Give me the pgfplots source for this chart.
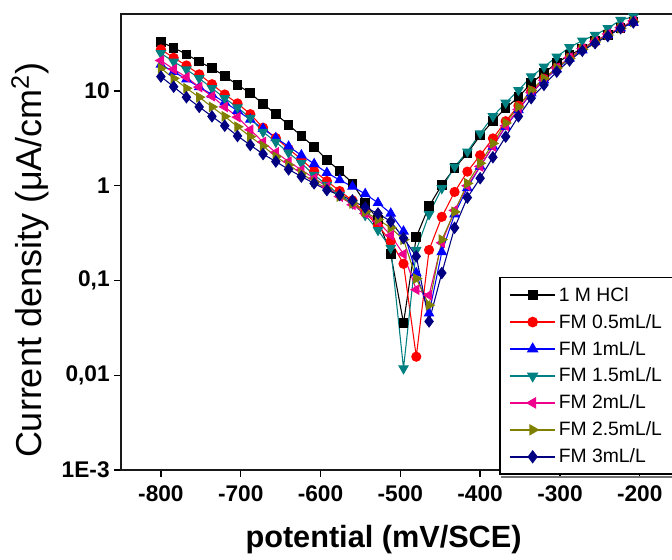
\documentclass[border=0pt]{standalone}
\usepackage{pgfplots}
\usepackage{pgfplotstable}
\pgfplotsset{compat=1.18}
\usepackage{fontspec}
\setmainfont{Liberation Sans}
\definecolor{cteal}{RGB}{0,128,128}
\definecolor{colive}{RGB}{128,128,0}
\definecolor{cnavy}{RGB}{0,0,128}
\pgfplotstableread{
x hcl fma fmb fmc fmd fme fmf
-800 33 27.5 19 25 21 17.4 14.2
-784 28.6 22.4 16 20.4 17 13.6 11.1
-768 24.4 18.6 13.3 16.9 14 10.7 8.6
-752 20.4 15 11 13.6 11 8.6 6.8
-736 17.4 11.8 9.2 10.7 8.8 6.8 5.4
-720 14.4 9.2 7.6 8.4 6.8 5.4 4.3
-704 11.6 7.4 6.2 6.7 5.3 4.2 3.35
-688 9.5 5.7 5.0 5.2 3.9 3.3 2.69
-672 7.3 4.1 4.0 3.7 2.9 2.63 2.16
-656 5.7 3.2 3.2 2.9 2.25 2.03 1.8
-640 4.4 2.45 2.6 2.23 1.8 1.66 1.49
-624 3.35 1.9 2.1 1.73 1.47 1.35 1.25
-608 2.58 1.43 1.7 1.30 1.2 1.1 1.06
-592 1.87 1.12 1.37 1.02 0.98 0.94 0.90
-576 1.44 0.88 1.15 0.80 0.77 0.77 0.80
-560 1.06 0.70 0.98 0.65 0.63 0.65 0.70
-544 0.66 0.52 0.82 0.49 0.51 0.53 0.59
-528 0.44 0.38 0.66 0.34 0.42 0.44 0.51
-512 0.19 0.26 0.51 0.22 0.30 0.36 0.42
-496 0.0356 0.15 0.33 0.0118 0.19 0.27 0.28
-480 0.288 0.0157 0.12 0.21 0.08 0.105 0.18
-464 0.61 0.21 0.045 0.5 0.07 0.055 0.037
-448 1.02 0.47 0.2 0.94 0.25 0.27 0.12
-432 1.54 0.86 0.5 1.59 0.55 0.53 0.36
-416 2.2 1.41 0.95 2.29 1.0 1.06 0.75
-400 3.4 2.1 1.6 3.57 1.6 1.73 1.2
-384 4.8 3.16 2.6 5.4 2.6 2.8 2.0
-368 6.6 4.8 4.2 7.5 4.3 4.6 3.3
-352 8.6 7 6.3 10.2 6.4 6.8 5.4
-336 12.1 10 9.5 14.2 9.6 10.2 8.4
-320 15.5 13.5 13 18 13 13.6 11.6
-304 19.8 17.5 17 23 17.5 17.5 16
-288 24 22.5 22 28.9 22.5 22 21
-272 28 28 27 34 28 27.5 26.6
-256 34 33 33 39 33.5 33 32
-240 39 39 39 46 40 39 38
-224 46 46 46 56 47 46 46
-208 54 54 53 61 55 54 53
}\data
\begin{document}
\begin{tikzpicture}
\begin{axis}[
  scale only axis,
  width=419pt, height=342pt,
  ymode=log,
  xmin=-850, xmax=-150,
  ymin=0.001, ymax=65,
  axis line style={line width=1.2pt, black!90},
  tick align=outside,
  xtick pos=bottom, ytick pos=left,
  major tick length=5pt,
  tick style={line width=1pt, black},
  yminorticks=false,
  xtick={-800,-700,-600,-500,-400,-300,-200},
  xticklabels={-800,-700,-600,-500,-400,-300,-200},
  ytick={0.001,0.01,0.1,1,10},
  yticklabels={1E-3,{0,01},{0,1},1,10},
  ticklabel style={font=\fontsize{17}{19}\selectfont\bfseries},
  xticklabel style={yshift=-3pt},
  xlabel={\textbf{potential (mV/SCE)}},
  xlabel style={at={(axis description cs:0.47,0)}, anchor=center, yshift=-52.5pt, font=\fontsize{23}{26}\selectfont},
  ylabel={Current density (μA/cm\textsuperscript{2})},
  ylabel style={at={(axis description cs:-0.163,0.46)}, anchor=center, rotate=0, font=\fontsize{27}{30}\selectfont},
  every axis plot/.append style={line width=0.8pt, mark size=3.4pt},
  legend style={name=leg, at={(axis description cs:0.677,0.423)}, anchor=north west, draw=black, line width=1pt,
    fill=white,
    font=\fontsize{14.5}{16}\selectfont, row sep=4.2pt, inner xsep=7pt, inner ysep=5pt, cells={anchor=west}},
  legend image code/.code={\draw[mark repeat=2,mark phase=2,#1,line width=1.2pt] plot coordinates {(0pt,0pt) (17pt,0pt) (34pt,0pt)};},
]
\coordinate (ll) at (rel axis cs:0,0);
\addplot[black, mark=square*, mark size=3.2pt] table[x=x,y=hcl]{\data};
\addlegendentry{1 M HCl}
\addplot[red, mark=*] table[x=x,y=fma]{\data};
\addlegendentry{FM 0.5mL/L}
\addplot[blue, mark=triangle*, mark size=3.9pt] table[x=x,y=fmb]{\data};
\addlegendentry{FM 1mL/L}
\addplot[cteal, mark=triangle*, mark size=3.9pt, mark options={rotate=180}] table[x=x,y=fmc]{\data};
\addlegendentry{FM 1.5mL/L}
\addplot[magenta, mark=triangle*, mark size=3.9pt, mark options={rotate=90}] table[x=x,y=fmd]{\data};
\addlegendentry{FM 2mL/L}
\addplot[colive, mark=triangle*, mark size=3.9pt, mark options={rotate=-90}] table[x=x,y=fme]{\data};
\addlegendentry{FM 2.5mL/L}
\addplot[cnavy, mark=diamond*, mark size=4.1pt] table[x=x,y=fmf]{\data};
\addlegendentry{FM 3mL/L}
\end{axis}
\draw[black!55, line width=1.5pt] ([xshift=1.5pt, yshift=-1.3pt]leg.south west) -- ([xshift=1.5pt, yshift=-1.3pt]leg.south east);
\pgfresetboundingbox
\path[use as bounding box] ([shift={(-90.75pt,-67.5pt)}]ll) rectangle ([shift={(413.25pt,352.5pt)}]ll);
\end{tikzpicture}
\end{document}
